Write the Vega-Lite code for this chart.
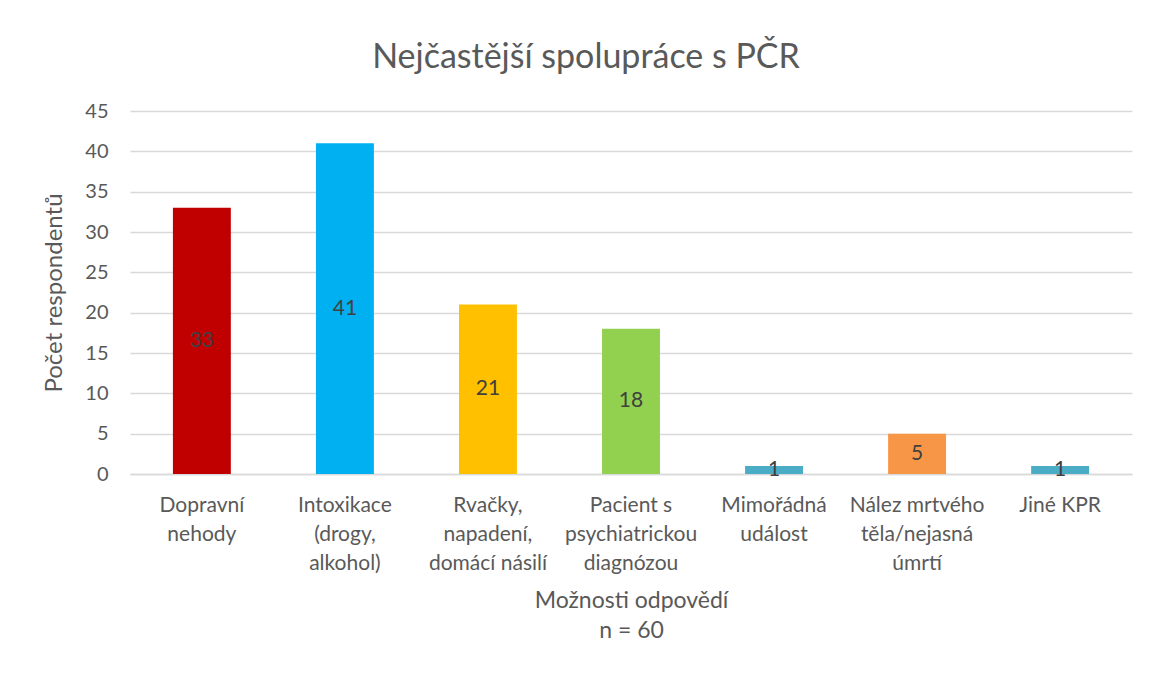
{
  "$schema": "https://vega.github.io/schema/vega-lite/v6.json",
  "width": 1002,
  "height": 363,
  "autosize": "none",
  "padding": {"left": 130, "top": 111, "right": 17, "bottom": 203},
  "background": "white",
  "title": {
    "text": "Nejčastější spolupráce s PČR",
    "font": "Lato",
    "fontSize": 34,
    "fontWeight": "normal",
    "color": "#595959",
    "anchor": "middle",
    "dx": -45,
    "offset": 26
  },
  "config": {
    "view": {"stroke": null},
    "font": "Lato"
  },
  "data": {
    "values": [
      {"kat": "Dopravní|nehody", "pocet": 33, "barva": "#C00000"},
      {"kat": "Intoxikace|(drogy,|alkohol)", "pocet": 41, "barva": "#00B0F0"},
      {"kat": "Rvačky,|napadení,|domácí násilí", "pocet": 21, "barva": "#FFC000"},
      {"kat": "Pacient s|psychiatrickou|diagnózou", "pocet": 18, "barva": "#92D050"},
      {"kat": "Mimořádná|událost", "pocet": 1, "barva": "#4BACC6"},
      {"kat": "Nález mrtvého|těla/nejasná|úmrtí", "pocet": 5, "barva": "#F79646"},
      {"kat": "Jiné KPR", "pocet": 1, "barva": "#4BACC6"}
    ]
  },
  "encoding": {
    "x": {
      "field": "kat",
      "type": "nominal",
      "sort": null,
      "scale": {"paddingInner": 0.595, "paddingOuter": 0.3},
      "axis": {
        "title": ["Možnosti odpovědí", "n = 60"],
        "titleFont": "Lato",
        "titleFontSize": 23,
        "titleFontWeight": "normal",
        "titleColor": "#595959",
        "titleLineHeight": 30,
        "titlePadding": 16,
        "labelExpr": "split(datum.label, '|')",
        "labelAngle": 0,
        "labelFont": "Lato",
        "labelFontSize": 21,
        "labelColor": "#595959",
        "labelLineHeight": 29,
        "labelPadding": 20,
        "labelLimit": 200,
        "ticks": false,
        "domainColor": "#D9D9D9",
        "domainWidth": 1.5
      }
    }
  },
  "layer": [
    {
      "mark": {"type": "bar"},
      "encoding": {
        "y": {
          "field": "pocet",
          "type": "quantitative",
          "scale": {"domain": [0, 45]},
          "axis": {
            "title": "Počet respondentů",
            "titleFont": "Lato",
            "titleFontSize": 24,
            "titleFontWeight": "normal",
            "titleColor": "#595959",
            "titlePadding": 18,
            "values": [0, 5, 10, 15, 20, 25, 30, 35, 40, 45],
            "labelFont": "Lato",
            "labelFontSize": 20,
            "labelColor": "#595959",
            "labelPadding": 22,
            "ticks": false,
            "domain": false,
            "gridColor": "#D9D9D9",
            "gridWidth": 1.5
          }
        },
        "color": {"field": "barva", "type": "nominal", "scale": null, "legend": null}
      }
    },
    {
      "transform": [{"calculate": "datum.pocet / 2", "as": "stred"}],
      "mark": {"type": "text", "font": "Lato", "fontSize": 21, "color": "#404040", "baseline": "middle"},
      "encoding": {
        "y": {"field": "stred", "type": "quantitative"},
        "text": {"field": "pocet", "type": "quantitative"}
      }
    }
  ]
}
